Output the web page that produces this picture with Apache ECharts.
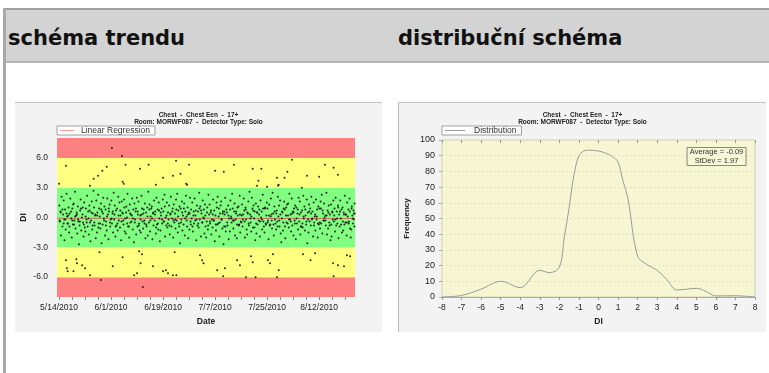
<!DOCTYPE html>
<html>
<head>
<meta charset="utf-8">
<script src="https://cdn.jsdelivr.net/npm/echarts@6/dist/echarts.min.js"></script>
<style>
  html, body { margin: 0; padding: 0; background: #fff; width: 769px; height: 373px; overflow: hidden; }
  .frame { position: absolute; left: 3px; top: 8px; width: 0; height: 365px; border-left: 3px solid #a8a8a8; }
  .header { position: absolute; left: 3px; top: 8px; width: 766px; height: 51px; background: #d3d3d3;
            border-top: 2px solid #a0a0a0; border-bottom: 2px solid #b4b4b4; }
  .header span { position: absolute; top: 16px; font: bold 21px "DejaVu Sans", sans-serif; color: #111; }
  .panel { position: absolute; top: 102px; height: 229px; background: #f3f3f3; border-top: 1px solid #c4c4c4; }
  #trend { left: 15px; width: 367px; }
  #dist { left: 398px; width: 367px; border-left: 1px solid #bcbcbc; }
</style>
</head>
<body>
<div class="header">
  <span style="left:5px">schéma trendu</span>
  <span style="left:395px">distribuční schéma</span>
</div>
<div class="frame"></div>
<div id="trend" class="panel"></div>
<div id="dist" class="panel"></div>
<script>
// popisky grafu
const titleLines = ['Chest  -  Chest Een  -  17+', 'Room: MORWF087  -  Detector Type: Solo'];

// osa x trendu: dny od 5/14/2010
const dateTicks = [0, 18, 36, 54, 72, 90];
const dateLabels = ['5/14/2010', '6/1/2010', '6/19/2010', '7/7/2010', '7/25/2010', '8/12/2010'];
const diTicks = [-6, -3, 0, 3, 6];
// hranice pasem (cervena / zluta / zelena / zluta / cervena)
const bandLimits = [-8, -6, -3, 3, 6, 8];

// body uvnitr zeleneho pasma [den, DI]
const inControl = [
  [0.1,1.2],[0.3,-0.4],[0.5,0.6],[0.7,-1.8],[0.9,2.1],
  [1.2,-0.9],[1.4,0.3],[1.6,1.7],[1.8,-0.2],[1.9,-2.3],
  [2.1,0.8],[2.3,-1.2],[2.6,2.4],[2.8,0.1],[2.9,-0.6],
  [3.1,-0.6],[3.3,1.0],[3.5,-1.5],[3.7,0.4],[3.9,1.9],
  [4.2,-0.1],[4.4,-2.0],[4.6,0.9],[4.8,-0.7],[4.9,1.3],
  [5.1,1.4],[5.3,-0.3],[5.5,2.6],[5.7,-1.1],[5.9,0.2],
  [6.1,0.5],[6.3,-1.6],[6.5,1.1],[6.7,-0.4],[6.9,-2.7],
  [7.1,-0.8],[7.3,0.7],[7.5,1.8],[7.7,-1.3],[7.9,0.0],
  [8.1,0.3],[8.3,-0.5],[8.5,-1.9],[8.7,1.5],[8.9,-1.0],
  [9.1,-1.4],[9.3,0.9],[9.5,-0.2],[9.7,2.2],[9.9,-0.9],
  [10.1,0.6],[10.3,-1.7],[10.5,1.2],[10.7,-0.5],[10.9,-2.4],
  [11.1,-0.3],[11.3,1.6],[11.5,-1.2],[11.7,0.4],[11.9,2.7],
  [12.1,1.0],[12.3,-0.8],[12.5,0.2],[12.7,-2.1],[12.9,1.7],
  [13.1,-1.5],[13.3,0.5],[13.5,2.3],[13.7,-0.6],[13.9,0.9],
  [14.1,0.1],[14.3,-1.1],[14.5,1.4],[14.7,-2.6],[14.9,0.6],
  [15.1,-0.7],[15.3,2.0],[15.5,-0.1],[15.7,1.1],[15.9,-1.8],
  [16.1,0.8],[16.3,-0.4],[16.5,-1.3],[16.7,1.9],[16.9,0.3],
  [17.1,-2.2],[17.3,0.6],[17.5,1.3],[17.7,-0.9],[17.9,-0.2],
  [18.1,1.7],[18.3,-0.6],[18.5,0.4],[18.7,-1.5],[18.9,2.5],
  [19.1,-0.2],[19.3,1.2],[19.5,-1.9],[19.7,0.7],[19.9,-0.8],
  [20.1,0.9],[20.3,-1.3],[20.5,2.1],[20.7,-0.3],[20.9,1.5],
  [21.1,-1.0],[21.3,0.2],[21.5,-2.3],[21.7,1.6],[21.9,0.5],
  [22.1,0.4],[22.3,-0.7],[22.5,1.8],[22.7,-1.4],[22.9,-0.1],
  [23.1,-1.6],[23.3,1.1],[23.5,0.0],[23.7,2.4],[23.9,-0.9],
  [24.1,0.7],[24.3,-2.0],[24.5,1.3],[24.7,-0.5],[24.9,0.3],
  [25.1,-0.4],[25.3,1.9],[25.5,-1.2],[25.7,0.8],[25.9,-2.5],
  [26.1,1.4],[26.3,-0.2],[26.5,0.6],[26.7,-1.7],[26.9,2.0],
  [27.1,-0.9],[27.3,0.3],[27.5,1.6],[27.7,-0.6],[27.9,-1.3],
  [28.1,0.2],[28.3,-1.5],[28.5,2.2],[28.7,0.9],[28.9,-0.4],
  [29.1,-1.1],[29.3,0.8],[29.5,-0.3],[29.7,1.4],[29.9,-2.1],
  [30.1,0.5],[30.3,-0.9],[30.5,1.0],[30.7,-1.8],[30.9,2.6],
  [31.1,-0.5],[31.3,1.3],[31.5,-1.4],[31.7,0.1],[31.9,0.9],
  [32.1,1.1],[32.3,-2.2],[32.5,0.4],[32.7,-0.8],[32.9,1.7],
  [33.1,-0.3],[33.3,0.6],[33.5,-1.6],[33.7,2.0],[33.9,-0.7],
  [34.1,0.8],[34.3,-1.2],[34.5,1.5],[34.7,-0.1],[34.9,-2.4],
  [35.1,-1.3],[35.3,0.2],[35.5,0.9],[35.7,-0.6],[35.9,1.8],
  [36.1,0.6],[36.3,-0.4],[36.5,2.3],[36.7,-1.9],[36.9,0.0],
  [37.1,-0.8],[37.3,1.5],[37.5,-1.0],[37.7,0.5],[37.9,-0.2],
  [38.1,1.2],[38.3,-1.7],[38.5,0.3],[38.7,2.1],[38.9,-0.9],
  [39.1,-0.1],[39.3,0.9],[39.5,-2.0],[39.7,1.3],[39.9,-0.5],
  [40.1,0.4],[40.3,-1.1],[40.5,1.8],[40.7,-0.3],[40.9,2.4],
  [41.1,-1.5],[41.3,0.7],[41.5,-0.6],[41.7,1.1],[41.9,-2.6],
  [42.1,0.9],[42.3,-0.2],[42.5,1.6],[42.7,-1.3],[42.9,0.2],
  [43.1,-0.7],[43.3,1.4],[43.5,-1.8],[43.7,0.6],[43.9,2.2],
  [44.1,0.1],[44.3,-0.9],[44.5,1.0],[44.7,-2.1],[44.9,0.5],
  [45.1,-1.2],[45.3,2.0],[45.5,-0.4],[45.7,0.8],[45.9,-0.1],
  [46.1,1.5],[46.3,-1.4],[46.5,0.2],[46.7,-0.6],[46.9,1.9],
  [47.1,-0.3],[47.3,0.7],[47.5,-2.3],[47.7,1.2],[47.9,-0.8],
  [48.1,0.6],[48.3,-1.0],[48.5,2.5],[48.7,-0.2],[48.9,1.1],
  [49.1,-1.9],[49.3,0.4],[49.5,-0.5],[49.7,1.7],[49.9,0.0],
  [50.1,0.8],[50.3,-1.6],[50.5,1.3],[50.7,-0.9],[50.9,-2.0],
  [51.1,-0.4],[51.3,1.0],[51.5,-1.2],[51.7,2.3],[51.9,0.3],
  [52.1,1.3],[52.3,-0.6],[52.5,0.5],[52.7,-1.7],[52.9,-0.2],
  [53.1,-1.0],[53.3,1.8],[53.5,-0.3],[53.7,0.7],[53.9,-2.4],
  [54.1,0.2],[54.3,-1.3],[54.5,1.5],[54.7,-0.7],[54.9,2.1],
  [55.1,-0.6],[55.3,0.9],[55.5,-1.9],[55.7,0.4],[55.9,1.2],
  [56.1,1.6],[56.3,-0.2],[56.5,-1.1],[56.7,0.6],[56.9,-2.7],
  [57.1,-0.9],[57.3,0.3],[57.5,2.0],[57.7,-1.4],[57.9,0.8],
  [58.1,0.5],[58.3,-0.8],[58.5,1.2],[58.7,-2.2],[58.9,-0.1],
  [59.1,-1.4],[59.3,1.7],[59.5,0.1],[59.7,-0.5],[59.9,2.4],
  [60.1,0.9],[60.3,-1.1],[60.5,-0.3],[60.7,1.4],[60.9,-1.8],
  [61.1,-0.2],[61.3,0.6],[61.5,-2.1],[61.7,1.0],[61.9,0.2],
  [62.1,1.1],[62.3,-0.7],[62.5,2.2],[62.7,-1.5],[62.9,-0.4],
  [63.1,-0.5],[63.3,1.3],[63.5,-0.9],[63.7,0.3],[63.9,1.9],
  [64.1,0.7],[64.3,-2.0],[64.5,1.0],[64.7,-0.2],[64.9,-1.2],
  [65.1,-1.7],[65.3,0.4],[65.5,1.6],[65.7,-0.8],[65.9,2.6],
  [66.1,0.3],[66.3,-0.5],[66.5,-1.4],[66.7,2.0],[66.9,0.9],
  [67.1,-1.0],[67.3,1.2],[67.5,-0.1],[67.7,0.6],[67.9,-2.3],
  [68.1,1.4],[68.3,-1.6],[68.5,0.5],[68.7,-0.7],[68.9,1.1],
  [69.1,-0.3],[69.3,0.8],[69.5,-1.9],[69.7,1.7],[69.9,0.0],
  [70.1,0.6],[70.3,-1.2],[70.5,2.3],[70.7,-0.4],[70.9,-0.9],
  [71.1,-1.5],[71.3,1.0],[71.5,-0.6],[71.7,0.2],[71.9,1.5],
  [72.1,0.9],[72.3,-0.3],[72.5,-2.2],[72.7,1.3],[72.9,-0.8],
  [73.1,-0.7],[73.3,1.9],[73.5,0.3],[73.7,-1.1],[73.9,2.5],
  [74.1,0.4],[74.3,-1.8],[74.5,1.1],[74.7,-0.2],[74.9,-0.6],
  [75.1,-1.2],[75.3,0.7],[75.5,-0.4],[75.7,2.1],[75.9,0.1],
  [76.1,1.2],[76.3,-0.9],[76.5,1.7],[76.7,-1.6],[76.9,-2.5],
  [77.1,-0.1],[77.3,0.5],[77.5,-1.3],[77.7,0.9],[77.9,1.6],
  [78.1,0.8],[78.3,-2.1],[78.5,0.2],[78.7,-0.5],[78.9,1.3],
  [79.1,-0.6],[79.3,1.4],[79.5,-1.0],[79.7,2.4],[79.9,-0.2],
  [80.1,0.3],[80.3,-1.4],[80.5,1.9],[80.7,-0.8],[80.9,0.6],
  [81.1,-1.8],[81.3,0.9],[81.5,-0.3],[81.7,1.2],[81.9,-2.2],
  [82.1,1.0],[82.3,-0.6],[82.5,0.4],[82.7,-1.2],[82.9,2.0],
  [83.1,-0.4],[83.3,1.6],[83.5,-1.7],[83.7,0.5],[83.9,-0.9],
  [84.1,0.7],[84.3,-1.0],[84.5,2.2],[84.7,-0.1],[84.9,1.1],
  [85.1,-1.3],[85.3,0.2],[85.5,-0.7],[85.7,1.8],[85.9,-2.6],
  [86.1,0.5],[86.3,-1.5],[86.5,1.3],[86.7,-0.4],[86.9,0.9],
  [87.1,-0.8],[87.3,2.1],[87.5,-0.2],[87.7,0.6],[87.9,-1.9],
  [88.1,1.5],[88.3,-0.5],[88.5,0.1],[88.7,-1.3],[88.9,1.8],
  [89.1,-0.2],[89.3,0.8],[89.5,-2.0],[89.7,1.1],[89.9,-0.7],
  [90.1,0.9],[90.3,-1.1],[90.5,1.6],[90.7,-0.6],[90.9,2.3],
  [91.1,-1.6],[91.3,0.4],[91.5,-0.3],[91.7,1.4],[91.9,0.0],
  [92.1,0.2],[92.3,-0.8],[92.5,2.5],[92.7,-1.7],[92.9,0.7],
  [93.1,-1.1],[93.3,1.2],[93.5,-0.5],[93.7,0.3],[93.9,-2.3],
  [94.1,1.3],[94.3,-1.9],[94.5,0.6],[94.7,-0.2],[94.9,1.7],
  [95.1,-0.4],[95.3,0.9],[95.5,-1.4],[95.7,2.0],[95.9,-0.8],
  [96.1,0.6],[96.3,-0.6],[96.5,1.2],[96.7,-2.1],[96.9,0.3],
  [97.1,-0.9],[97.3,1.7],[97.5,-0.1],[97.7,0.8],[97.9,-1.5],
  [98.1,1.0],[98.3,-1.3],[98.5,0.5],[98.7,-0.7],[98.9,2.2],
  [99.1,-0.5],[99.3,0.3],[99.5,-1.8],[99.7,1.5],[99.9,0.1],
  [100.1,0.8],[100.3,-0.4],[100.5,1.9],[100.7,-1.1],[100.9,-2.0],
  [101.1,-1.2],[101.3,1.1],[101.5,0.2],[101.7,-0.6],[101.9,0.7],
  [102.1,0.4],[102.2,-0.9],[102.3,1.4]
];

// husty shluk kolem nuly [den, DI]
const nearZero = [
  [0.2,-0.3],[0.6,0.5],[1.2,0.8],[1.6,-0.6],[2.2,-0.2],[2.6,0.4],[3.2,0.2],[3.6,-0.9],
  [4.2,0.6],[4.6,-0.3],[5.2,-0.7],[5.6,0.1],[6.2,0.3],[6.6,-0.2],[7.2,-0.4],[7.6,0.9],
  [8.2,1.0],[8.6,-0.7],[9.2,0.1],[9.6,-0.5],[10.2,-0.1],[10.6,0.7],[11.2,0.5],[11.6,-0.8],
  [12.2,-0.5],[12.6,0.3],[13.2,0.2],[13.6,-1.0],[14.2,-0.6],[14.6,0.8],[15.2,0.4],[15.6,-0.3],
  [16.2,-0.8],[16.6,0.1],[17.2,0.9],[17.6,-0.5],[18.2,-0.1],[18.6,0.6],[19.2,0.3],[19.6,-0.9],
  [20.2,-0.6],[20.6,0.2],[21.2,0.7],[21.6,-0.4],[22.2,-0.3],[22.6,1.0],[23.2,0.5],[23.6,-0.6],
  [24.2,-0.9],[24.6,0.4],[25.2,0.2],[25.6,-0.1],[26.2,-0.5],[26.6,0.9],[27.2,0.6],[27.6,-0.8],
  [28.2,-0.2],[28.6,0.3],[29.2,0.4],[29.6,-0.6],[30.2,-0.7],[30.6,0.1],[31.2,0.8],[31.6,-0.3],
  [32.2,-0.1],[32.6,0.5],[33.2,0.3],[33.6,-1.0],[34.2,-0.6],[34.6,0.7],[35.2,0.5],[35.6,-0.2],
  [36.2,-0.4],[36.6,1.1],[37.2,0.2],[37.6,-0.6],[38.2,-0.8],[38.6,0.4],[39.2,0.6],[39.6,-0.3],
  [40.2,-0.2],[40.6,0.8],[41.2,0.1],[41.6,-0.9],[42.2,-0.5],[42.6,0.5],[43.2,0.9],[43.6,-0.1],
  [44.2,-0.3],[44.6,0.3],[45.2,0.4],[45.6,-0.7],[46.2,-0.9],[46.6,0.6],[47.2,0.2],[47.6,-0.2],
  [48.2,-0.6],[48.6,0.9],[49.2,0.7],[49.6,-0.5],[50.2,-0.1],[50.6,0.2],[51.2,0.5],[51.6,-0.8],
  [52.2,-0.4],[52.6,0.7],[53.2,0.3],[53.6,-0.3],[54.2,-0.7],[54.6,1.0],[55.2,0.1],[55.6,-0.5],
  [56.2,-0.2],[56.6,0.4],[57.2,0.6],[57.6,-0.9],[58.2,-0.5],[58.6,0.2],[59.2,0.8],[59.6,-0.1],
  [60.2,-0.3],[60.6,0.6],[61.2,0.4],[61.6,-0.7],[62.2,-0.8],[62.6,0.3],[63.2,0.2],[63.6,-0.2],
  [64.2,-0.4],[64.6,0.8],[65.2,0.5],[65.6,-0.6],[66.2,-0.1],[66.6,0.1],[67.2,0.7],[67.6,-1.0],
  [68.2,-0.6],[68.6,0.5],[69.2,0.3],[69.6,-0.4],[70.2,-0.2],[70.6,0.9],[71.2,0.9],[71.6,-0.7],
  [72.2,-0.5],[72.6,0.2],[73.2,0.1],[73.6,-0.3],[74.2,-0.7],[74.6,0.6],[75.2,0.4],[75.6,-0.9],
  [76.2,-0.3],[76.6,0.3],[77.2,0.6],[77.6,-0.5],[78.2,-0.9],[78.6,1.0],[79.2,0.2],[79.6,-0.2],
  [80.2,-0.4],[80.6,0.4],[81.2,0.5],[81.6,-0.6],[82.2,-0.1],[82.6,0.8],[83.2,0.3],[83.6,-0.9],
  [84.2,-0.6],[84.6,0.1],[85.2,0.8],[85.6,-0.4],[86.2,-0.2],[86.6,0.6],[87.2,0.4],[87.6,-0.1],
  [88.2,-0.8],[88.6,0.3],[89.2,0.1],[89.6,-0.6],[90.2,-0.5],[90.6,0.9],[91.2,0.7],[91.6,-0.3],
  [92.2,-0.3],[92.6,0.2],[93.2,0.5],[93.6,-0.8],[94.2,-0.7],[94.6,0.5],[95.2,0.2],[95.6,-0.2],
  [96.2,-0.1],[96.6,1.0],[97.2,0.6],[97.6,-0.7],[98.2,-0.4],[98.6,0.3],[99.2,0.3],[99.6,-0.5],
  [100.2,-0.6],[100.6,0.6],[101.2,0.9],[101.6,-0.1],[102.0,-0.2],[102.3,0.4]
];

// body mimo zelene pasmo [den, DI]
const outOfControl = [
  [18.3,7.0],[21.8,6.2],[2.4,5.2],[12.0,3.9],[13.5,4.2],[15.0,4.7],[16.5,5.1],[23.0,5.3],
  [22.0,3.6],[22.4,3.4],[28.0,4.9],[31.0,5.3],[33.5,3.3],[36.0,4.0],[39.4,4.2],[40.5,5.7],
  [42.0,4.4],[44.0,3.4],[45.0,5.3],[54.0,4.7],[57.0,4.6],[60.5,5.3],[67.0,4.9],[70.0,4.9],
  [69.0,3.7],[76.0,3.3],[75.4,4.0],[78.0,4.0],[79.0,4.6],[80.6,5.8],[85.8,4.2],[90.0,4.1],
  [92.0,5.3],[95.0,5.0],[96.5,4.3],[0.0,3.4],[10.7,3.2],[44.3,3.3],[68.5,3.2],[72.0,3.1],
  [75.8,3.2],[84.0,3.0],
  [2.4,-4.3],[2.7,-5.1],[3.0,-5.4],[5.0,-5.4],[6.0,-4.2],[6.2,-4.6],[8.0,-4.8],[9.0,-5.1],
  [10.7,-5.8],[14.0,-3.5],[14.5,-6.3],[18.6,-4.9],[22.0,-4.0],[26.0,-5.8],[27.0,-5.6],[27.7,-3.4],
  [28.7,-3.7],[28.2,-4.6],[29.0,-7.0],[32.5,-4.9],[36.0,-5.4],[37.0,-5.3],[37.7,-5.6],[39.4,-5.8],
  [40.0,-3.5],[40.6,-5.8],[48.8,-3.8],[49.5,-4.3],[50.0,-4.6],[54.7,-5.3],[56.8,-5.9],[57.4,-5.1],
  [61.6,-4.3],[62.6,-4.8],[64.7,-6.0],[66.4,-3.9],[67.0,-4.5],[68.0,-6.0],[72.3,-4.3],[73.0,-4.6],
  [75.4,-6.0],[76.0,-5.3],[74.0,-3.7],[84.4,-3.7],[87.0,-4.3],[88.6,-3.6],[94.8,-4.6],[95.0,-5.9],
  [96.5,-4.8],[98.6,-4.9],[99.6,-3.8],[100.7,-3.9]
];

// linearni regrese - krajni body
const regressionDays = [-0.7, 102.4];
const regressionDI = [-0.08, -0.1];

// distribuce
const distDI = [-8, -7, -6, -5, -4, -3, -2.5, -2, -1.75, -1.5, -1.25, -1, -0.75, -0.5, 0, 0.5, 0.75, 1, 1.25, 1.5, 2, 2.5, 3, 3.5, 4, 4.5, 5, 5.5, 6, 7, 8];
const distFreq = [0, 1, 5, 10, 6, 17, 15.5, 19, 38, 57, 78, 90, 93, 93.5, 93, 91, 89, 86, 74, 63, 26, 20.5, 17, 11, 4.5, 5, 5.5, 3.5, 0.7, 0.8, 0];
const avgValue = '-0.09';
const stdValue = '1.97';

const FONT = '"Liberation Sans", Arial, sans-serif';
const bandColors = ['#ff8080', '#ffff80', '#80ff80', '#ffff80', '#ff8080'];

// minor ticky po 4.5 dnech
let minorDays = [];
for (let d = 0; d <= 102; d += 4.5) minorDays.push(d);

function titleOpt() {
  return {
    text: titleLines.join('\n'),
    left: 'center',
    top: 3,
    textStyle: { fontFamily: FONT, fontSize: 6.5, fontWeight: 'bold', color: '#222', lineHeight: 7.5 }
  };
}

// ---- schema trendu ----
let trendChart = echarts.init(document.getElementById('trend'));
let bandData = [];
for (let i = 0; i < bandLimits.length - 1; i++) {
  bandData.push([
    { yAxis: bandLimits[i], itemStyle: { color: bandColors[i] } },
    { yAxis: bandLimits[i + 1] }
  ]);
}
trendChart.setOption({
  animation: false,
  title: titleOpt(),
  legend: {
    left: 42, top: 23,
    data: [{ name: 'Linear Regression', icon: 'rect' }],
    itemWidth: 14, itemHeight: 1,
    borderColor: '#a0a0a0', borderWidth: 1, backgroundColor: '#fff',
    padding: [0, 5, 0, 3], itemGap: 4,
    textStyle: { fontFamily: FONT, fontSize: 8.5, color: '#333', padding: [0, 0, 0, 2] }
  },
  grid: { left: 42, right: 27, top: 35, bottom: 35, outerBoundsMode: 'none' },
  xAxis: [{
    type: 'value', min: -0.7, max: 102.4,
    name: 'Date', nameLocation: 'middle', nameGap: 20,
    nameTextStyle: { fontFamily: FONT, fontSize: 8.5, fontWeight: 'bold', color: '#222' },
    axisLine: { show: false, onZero: false },
    axisTick: { customValues: minorDays, length: 3, lineStyle: { color: '#888' } },
    axisLabel: {
      customValues: dateTicks, margin: 6,
      fontFamily: FONT, fontSize: 8.5, color: '#222',
      formatter: v => dateLabels[dateTicks.indexOf(v)]
    },
    splitLine: { show: false }
  }, {
    type: 'value', min: -0.7, max: 102.4, position: 'top',
    axisLine: { show: false, onZero: false },
    axisTick: { customValues: minorDays, inside: true, length: 3, lineStyle: { color: '#777' } },
    axisLabel: { show: false }, splitLine: { show: false }
  }],
  yAxis: {
    type: 'value', min: -8, max: 8,
    name: 'DI', nameLocation: 'middle', nameGap: 29, nameMoveOverlap: false,
    nameTextStyle: { fontFamily: FONT, fontSize: 8.5, fontWeight: 'bold', color: '#222' },
    axisLine: { show: false, onZero: false }, axisTick: { show: false },
    axisLabel: {
      customValues: diTicks, margin: 9,
      fontFamily: FONT, fontSize: 8.5, color: '#222',
      formatter: v => v.toFixed(1)
    },
    splitLine: { show: false }
  },
  series: [
    {
      name: 'bands', type: 'line', data: [], z: 1, silent: true,
      markArea: { silent: true, data: bandData }
    },
    {
      name: 'Linear Regression', type: 'line', z: 2, showSymbol: false, symbol: 'none',
      data: regressionDays.map((d, i) => [d, regressionDI[i]]),
      lineStyle: { color: '#c8705e', width: 1 }, itemStyle: { color: '#ff9a9a' }
    },
    {
      name: 'DI', type: 'scatter', z: 3, symbolSize: 2,
      data: inControl.concat(nearZero, outOfControl),
      itemStyle: { color: '#111', opacity: 0.9 }
    }
  ]
});

// ---- distribucni schema ----
let distChart = echarts.init(document.getElementById('dist'));
distChart.setOption({
  animation: false,
  title: [titleOpt(), {
    text: '{a|Average = ' + avgValue + '}\n{a|StDev = ' + stdValue + '}',
    right: 18, top: 44,
    borderColor: '#888', borderWidth: 1, backgroundColor: '#f7f7d6',
    padding: [1, 3, 1, 3],
    textStyle: {
      fontWeight: 'normal',
      rich: { a: { fontFamily: FONT, fontSize: 7.5, fontWeight: 'normal', color: '#333', align: 'center', width: 50, lineHeight: 8.5 } }
    }
  }],
  legend: {
    left: 43, top: 23,
    data: [{ name: 'Distribution', icon: 'rect' }],
    itemWidth: 20, itemHeight: 1,
    borderColor: '#a0a0a0', borderWidth: 1, backgroundColor: '#fff',
    padding: [0, 5, 0, 3], itemGap: 4,
    textStyle: { fontFamily: FONT, fontSize: 8.5, color: '#333', padding: [0, 0, 0, 4] }
  },
  grid: {
    left: 43, right: 11, top: 37, bottom: 35, outerBoundsMode: 'none',
    show: true, backgroundColor: '#f6f6d2', borderColor: '#d2d2b0', borderWidth: 1
  },
  xAxis: [{
    type: 'value', min: -8, max: 8, interval: 1,
    name: 'DI', nameLocation: 'middle', nameGap: 20,
    nameTextStyle: { fontFamily: FONT, fontSize: 8.5, fontWeight: 'bold', color: '#222' },
    axisLine: { show: true, onZero: false, lineStyle: { color: '#aaa' } },
    axisTick: { length: 3, lineStyle: { color: '#999' } },
    axisLabel: { margin: 6, fontFamily: FONT, fontSize: 8.5, color: '#222' },
    splitLine: { show: false }
  }, {
    type: 'value', min: -8, max: 8, interval: 1, position: 'top',
    axisLine: { show: false, onZero: false },
    axisTick: { inside: true, length: 3, lineStyle: { color: '#999' } },
    axisLabel: { show: false }, splitLine: { show: false }
  }],
  yAxis: {
    type: 'value', min: 0, max: 100, interval: 10,
    name: 'Frequency', nameLocation: 'middle', nameGap: 31, nameMoveOverlap: false,
    nameTextStyle: { fontFamily: FONT, fontSize: 8, fontWeight: 'bold', color: '#222' },
    axisLine: { show: false, onZero: false },
    axisTick: { show: true, length: 3, lineStyle: { color: '#aaa' } },
    axisLabel: { margin: 7, fontFamily: FONT, fontSize: 9, color: '#222' },
    splitLine: { show: true, lineStyle: { color: '#e2e2c0', type: [2, 2] } }
  },
  series: [{
    name: 'Distribution', type: 'line', smooth: 0.35, symbol: 'none',
    data: distDI.map((x, i) => [x, distFreq[i]]),
    lineStyle: { color: '#9a9a9a', width: 1 }, itemStyle: { color: '#9a9a9a' }
  }]
});
</script>
</body>
</html>
